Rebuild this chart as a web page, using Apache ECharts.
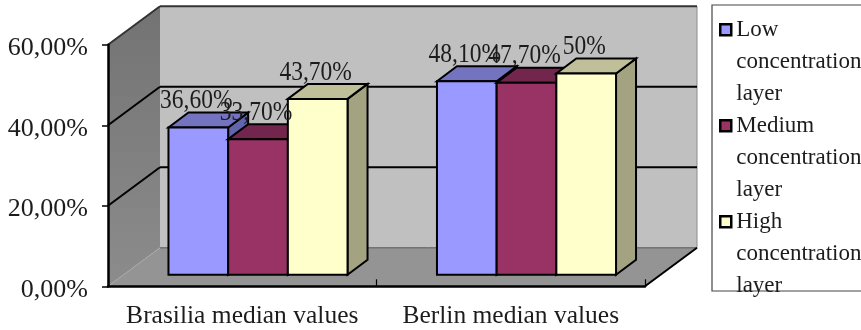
<!DOCTYPE html>
<html>
<head>
<meta charset="utf-8">
<style>html,body{margin:0;padding:0;background:#fff}#c{width:861px;height:330px}</style>
<script src="https://cdn.jsdelivr.net/npm/echarts@6/dist/echarts.min.js"></script>
</head>
<body>
<div id="c"></div>
<script>
const categories = ['Brasilia median values', 'Berlin median values'];
const lowValues = [36.6, 48.1];
const mediumValues = [33.7, 47.7];
const highValues = [43.7, 50];
const lowLabels = ['36,60%', '48,10%'];
const mediumLabels = ['33,70%', '47,70%'];
const highLabels = ['43,70%', '50%'];
const seriesNames = ['Low\nconcentration\nlayer', 'Medium\nconcentration\nlayer', 'High\nconcentration\nlayer'];
const yTicks = [0, 20, 40, 60];

const FONT = '"Liberation Serif","Times New Roman",serif';
const TEXT = '#1c1c1c';
const WALL = {dx: 52, dy: -38.5};
const BAR_SHIFT = {dx: 15.75, dy: -11.5};
const BAR_DEPTH = {dx: 20, dy: -15};
const BAR_BAND = 0.2223;

function poly(points, fill, stroke, width, z2) {
  return {type: 'polygon', z2: z2 || 0, silent: true, shape: {points},
    style: {fill, stroke: stroke || null, lineWidth: width || 0, lineJoin: 'miter'}};
}
function line(a, b, stroke, width, z2) {
  return {type: 'line', z2: z2 || 1, silent: true, shape: {x1: a[0], y1: a[1], x2: b[0], y2: b[1]},
    style: {stroke, lineWidth: width}};
}
function renderWalls(params, api) {
  if (params.dataIndex !== 0) return null;
  const g = params.coordSys;
  const L = g.x, R = g.x + g.width, T = g.y, B = g.y + g.height;
  const d = WALL;
  const kids = [
    poly([[L + d.dx, T + d.dy], [R + d.dx, T + d.dy], [R + d.dx, B + d.dy], [L + d.dx, B + d.dy]], '#c0c0c0'),
    poly([[L, T], [L + d.dx, T + d.dy], [L + d.dx, B + d.dy], [L, B]], {
      type: 'linear', x: 0, y: 0, x2: 0, y2: 1,
      colorStops: [{offset: 0, color: '#737373'}, {offset: 1, color: '#8c8c8c'}]
    }),
    poly([[L, B], [L + d.dx, B + d.dy], [R + d.dx, B + d.dy], [R, B]], '#949494'),
    line([R + d.dx, T + d.dy], [R + d.dx, B + d.dy], '#8c8c8c', 1),
    line([L + d.dx, B + d.dy], [R + d.dx, B + d.dy], '#555', 1),
    line([L, B], [L + d.dx, B + d.dy], '#a8a8a8', 1),
    line([R, B], [R + d.dx, B + d.dy], '#000', 2)
  ];
  yTicks.forEach(t => {
    if (t === 0) return;
    const y = api.coord([0, t])[1];
    const col = t === 60 ? '#333' : '#000';
    kids.push(line([L, y], [L + d.dx, y + d.dy], col, 2));
    kids.push(line([L + d.dx, y + d.dy], [R + d.dx, y + d.dy], col, 2));
  });
  return {type: 'group', children: kids};
}
function barRenderer(slot, colors, labels) {
  return function (params, api) {
    const cat = api.value(0), val = api.value(1);
    const w = api.size([1, 0])[0] * BAR_BAND;
    const c = api.coord([cat, 0]);
    const t = api.coord([cat, val]);
    const x0 = c[0] + BAR_SHIFT.dx + (slot - 1.5) * w, x1 = x0 + w;
    const yb = c[1] + BAR_SHIFT.dy, yt = t[1] + BAR_SHIFT.dy;
    const dx = BAR_DEPTH.dx, dy = BAR_DEPTH.dy;
    const edge = '#000';
    return {type: 'group', children: [
      poly([[x1, yb], [x1 + dx, yb + dy], [x1 + dx, yt + dy], [x1, yt]], colors.side, edge, 2),
      poly([[x0, yt], [x0 + dx, yt + dy], [x1 + dx, yt + dy], [x1, yt]], colors.top, edge, 2),
      poly([[x0, yb], [x1, yb], [x1, yt], [x0, yt]], colors.front, edge, 2),
      {type: 'text', z2: 100, silent: true,
        x: (x0 + x1) / 2 - 2, y: yt - 26.5, scaleX: 0.87,
        style: {text: labels[params.dataIndex], font: '27px ' + FONT, fill: TEXT, align: 'center', verticalAlign: 'middle'}}
    ]};
  };
}
const palette = [
  {front: '#9999ff', top: '#7373bf', side: '#6464ad'},
  {front: '#993366', top: '#73264d', side: '#602040'},
  {front: '#ffffcc', top: '#bfbf99', side: '#a3a382'}
];
function barSeries(i, values, labels) {
  return {
    type: 'custom', name: seriesNames[i], coordinateSystem: 'cartesian2d', clip: false, z: 3,
    itemStyle: {color: palette[i].front},
    encode: {x: 0, y: 1},
    data: values.map((v, k) => [k, v]),
    renderItem: barRenderer(i, palette[i], labels)
  };
}
// Square at the first text line; the two specks stretch the icon box to the three-line text height.
const legendIcon = 'path://M0 10H11V21H0Z M0 0L0.01 0 M0 96L0.01 96';
const chart = echarts.init(document.getElementById('c'), null, {renderer: 'canvas'});
chart.setOption({
  animation: false,
  backgroundColor: '#fff',
  grid: {left: 108, right: 216, top: 44.8, bottom: 43.7, containLabel: false},
  xAxis: {
    type: 'category', data: categories, z: 1,
    axisLine: {lineStyle: {color: '#000', width: 2.5}},
    axisTick: {show: true, inside: true, length: 7, lineStyle: {color: '#000', width: 1.2}},
    axisLabel: {fontFamily: FONT, fontSize: 25.5, color: TEXT, margin: 17, interval: 0, hideOverlap: false},
    splitLine: {show: false}
  },
  yAxis: {
    type: 'value', min: 0, max: 60, interval: 20, z: 1,
    axisLine: {show: true, lineStyle: {color: '#000', width: 2.5}},
    axisTick: {show: true, length: 6, lineStyle: {color: '#000', width: 1.5}},
    axisLabel: {
      margin: 20, color: TEXT, fontFamily: FONT, fontSize: 26,
      formatter: v => '{t|' + v + ',00%}',
      rich: {t: {fontFamily: FONT, fontSize: 26, color: TEXT, padding: [7, 0, 0, 0]}}
    },
    splitLine: {show: false}
  },
  graphic: [{type: 'rect', z: 1, shape: {x: 712, y: 5, width: 170, height: 286},
    style: {fill: '#fff', stroke: '#444', lineWidth: 1.2}, silent: true}],
  legend: {
    orient: 'vertical', left: 719, top: 13, padding: 0, itemGap: -2.5, selectedMode: false,
    itemWidth: 11, itemHeight: 96, z: 5,
    icon: legendIcon,
    textStyle: {fontFamily: FONT, fontSize: 23, lineHeight: 32, color: TEXT},
    data: seriesNames.map((n, i) => ({name: n, icon: legendIcon,
      itemStyle: {color: palette[i].front, borderColor: '#000', borderWidth: 2.5}}))
  },
  series: [
    {type: 'custom', name: 'walls', coordinateSystem: 'cartesian2d', clip: false, z: -1, silent: true,
      encode: {x: 0, y: 1}, data: [[0, 0]], renderItem: renderWalls},
    barSeries(0, lowValues, lowLabels),
    barSeries(1, mediumValues, mediumLabels),
    barSeries(2, highValues, highLabels)
  ]
});
</script>
</body>
</html>
